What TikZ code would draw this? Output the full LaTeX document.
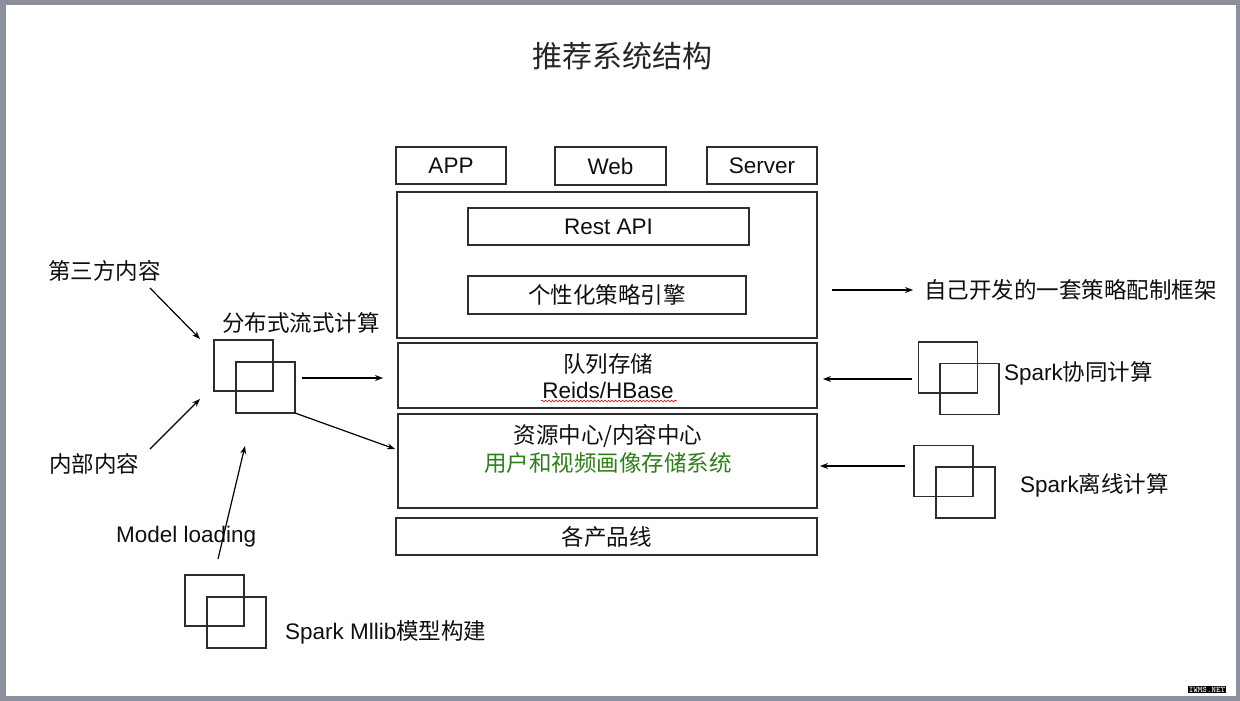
\documentclass[tikz,border=0pt]{standalone}
\usepackage{fontspec}
\setmainfont{Liberation Sans}
\newfontfamily\cjk{Noto Sans CJK SC}
\usetikzlibrary{decorations.pathmorphing,arrows.meta}
\definecolor{framegray}{RGB}{140,144,158}
\definecolor{boxline}{RGB}{45,45,45}
\definecolor{txt}{RGB}{15,15,15}
\definecolor{grn}{RGB}{45,128,25}
\begin{document}
\begin{tikzpicture}[x=1pt,y=-1pt,
  every node/.style={text=txt,font=\fontsize{22.5}{26}\selectfont},
  box/.style={draw=boxline,line width=1.5pt,inner sep=0pt,rectangle},
  sq/.style={draw=boxline,line width=1.5pt,inner sep=0pt,minimum width=59pt,minimum height=51pt},
  arr/.style={draw=black,line width=1.2pt,-{Stealth[length=8pt,width=6pt]}},
  lbl/.style={inner sep=0pt,anchor=west}]
\useasboundingbox (0,0) rectangle (1240,701);
% slide frame
\fill[framegray] (0,0) rectangle (1240,701);
\fill[white] (6,5) rectangle (1236,696);
% title
\node[font=\cjk\fontsize{30}{35}\selectfont,text=black!85] (title) at (622,56) {推荐系统结构};
% top boxes
\node[box,minimum width=110pt,minimum height=37pt] (app) at (451,165.5) {APP};
\node[box,minimum width=111pt,minimum height=38pt] (web) at (610.5,166) {Web};
\node[box,minimum width=110pt,minimum height=37pt] (server) at (762,165.5) {Server};
% engine frame
\node[box,minimum width=420pt,minimum height=146pt] (frame) at (607,265) {};
\node[box,minimum width=281pt,minimum height=37pt] (rest) at (608.5,226.5) {Rest API};
\node[box,minimum width=278pt,minimum height=38pt,font=\cjk\fontsize{22.5}{26}\selectfont] (engine) at (607,295) {个性化策略引擎};
% queue storage
\node[box,minimum width=419pt,minimum height=65pt] (queue) at (607.5,375.5) {};
\node[font=\cjk\fontsize{22.5}{26}\selectfont] (queuet) at (608,364) {队列存储};
\node (reids) at (608,390) {Reids/HBase};
\draw[red!80!black,line width=0.6pt,decorate,decoration={snake,amplitude=0.9pt,segment length=3.5pt}] (541,401) -- (677,401);
% resource center
\node[box,minimum width=419pt,minimum height=94pt] (res) at (607.5,461) {};
\node[font=\cjk\fontsize{22.5}{26}\selectfont] (rest1) at (608,436) {资源中心/内容中心};
\node[font=\cjk\fontsize{22.5}{26}\selectfont,text=grn] (rest2) at (608,463) {用户和视频画像存储系统};
% product lines
\node[box,minimum width=421pt,minimum height=37pt,font=\cjk\fontsize{22.5}{26}\selectfont] (prod) at (606.5,536.5) {各产品线};
% left: stream computing
\node[lbl,font=\cjk\fontsize{22.5}{26}\selectfont] (third) at (48,271) {第三方内容};
\node[lbl,font=\cjk\fontsize{22.5}{26}\selectfont] (stream) at (222,323) {分布式流式计算};
\node[lbl,font=\cjk\fontsize{22.5}{26}\selectfont] (inner) at (49,464) {内部内容};
\node[sq] (sa) at (243.5,365.5) {};
\node[sq] (sb) at (265.5,387.5) {};
\coordinate (t1) at (150,288); \coordinate (t2) at (200,339);
\coordinate (i1) at (150,449); \coordinate (i2) at (200,399);
\coordinate (h1) at (302,378); \coordinate (h2) at (383,378);
\coordinate (d1) at (295,413); \coordinate (d2) at (395,449);
\draw[arr] (t1) -- (t2);
\draw[arr] (i1) -- (i2);
\draw[arr] (h1) -- (h2);
\draw[arr] (d1) -- (d2);
% model loading
\node[lbl] (model) at (116,537) {Model loading};
\node[sq] (ma) at (214.5,600.5) {};
\node[sq] (mb) at (236.5,622.5) {};
\node[lbl] (mllib) at (285,632) {Spark Mllib{\cjk 模型构建}};
\coordinate (m1) at (218,559); \coordinate (m2) at (245,446);
\draw[arr] (m1) -- (m2);
% right side
\coordinate (f1) at (832,290); \coordinate (f2) at (913,290);
\draw[arr] (f1) -- (f2);
\node[lbl,font=\cjk\fontsize{22.5}{26}\selectfont] (own) at (924,290) {自己开发的一套策略配制框架};
\node[sq] (ca) at (948,367.5) {};
\node[sq] (cb) at (969.5,389) {};
\node[lbl] (collab) at (1004,373) {Spark{\cjk 协同计算}};
\coordinate (c1) at (912,379); \coordinate (c2) at (823,379);
\draw[arr] (c1) -- (c2);
\node[sq] (oa) at (943.5,471) {};
\node[sq] (ob) at (965.5,492.5) {};
\node[lbl] (offline) at (1020,485) {Spark{\cjk 离线计算}};
\coordinate (o1) at (905,466); \coordinate (o2) at (820,466);
\draw[arr] (o1) -- (o2);
% watermark
\node[fill=black,text=white,inner xsep=1pt,inner ysep=0.6pt,font=\ttfamily\bfseries\fontsize{8.6}{8.6}\selectfont] (wm) at (1207,689.5) {IWMS.NET};
\end{tikzpicture}
\end{document}
